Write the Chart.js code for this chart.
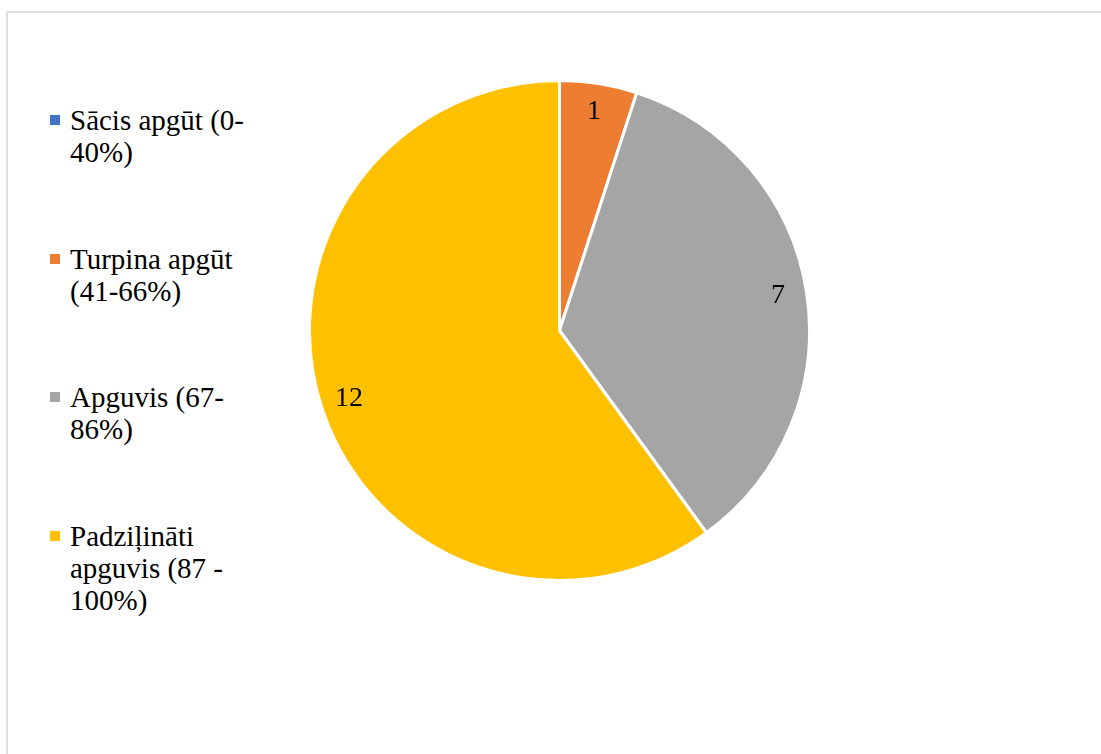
<!DOCTYPE html>
<html>
<head>
<meta charset="utf-8">
<title>Apguves līmeņi</title>
<script src="https://cdn.jsdelivr.net/npm/chart.js@4.4.1/dist/chart.umd.min.js"></script>
<style>
  html, body { margin: 0; padding: 0; background: #fff; overflow: hidden; }
  body { width: 1101px; height: 754px; position: relative;
         font-family: "Liberation Serif", "Times New Roman", serif; color: #000; }
  .frame { position: absolute; left: 6px; top: 11px; width: 1200px; height: 900px;
           border-top: 2px solid #dedede; border-left: 2px solid #dedede; }
  .pie-box { position: absolute; left: 308px; top: 79px; width: 503px; height: 503px; }
  .legend { position: absolute; left: 50px; top: 0; }
  .legend-item { position: absolute; left: 0; width: 220px; font-size: 29px; line-height: 32px; }
  .legend-item .swatch { position: absolute; left: 0; top: 11px; width: 10px; height: 10px; }
  .legend-item .text { position: absolute; left: 20px; white-space: nowrap; }
</style>
</head>
<body>
<div class="frame"></div>
<div class="legend" id="legend"></div>
<div class="pie-box"><canvas id="pieChart" width="503" height="503"></canvas></div>
<script>
"use strict";

// Achievement levels, each label split into the lines it is shown on
const categories = [
    ["Sācis apgūt (0-", "40%)"],
    ["Turpina apgūt", "(41-66%)"],
    ["Apguvis (67-", "86%)"],
    ["Padziļināti", "apguvis (87 -", "100%)"]
];
const counts = [0, 1, 7, 12];
const colors = ["#4472C4", "#ED7D31", "#A5A5A5", "#FFC000"];

const labelFont = '28px "Liberation Serif", "Times New Roman", serif';

// Writes each slice's count inside the slice, near the rim
const sliceValues = {
    id: "sliceValues",
    afterDatasetsDraw(chart) {
        const c = chart.ctx;
        const meta = chart.getDatasetMeta(0);
        c.save();
        c.font = labelFont;
        c.fillStyle = "#000";
        c.textAlign = "center";
        c.textBaseline = "middle";
        meta.data.forEach((arc, i) => {
            const value = chart.data.datasets[0].data[i];
            if (!value) return;
            const p = arc.getProps(["x", "y", "startAngle", "endAngle", "outerRadius"], true);
            const mid = (p.startAngle + p.endAngle) / 2;
            const r = p.outerRadius * 0.885;
            c.fillText(String(value), p.x + Math.cos(mid) * r, p.y + Math.sin(mid) * r);
        });
        c.restore();
    }
};

const ctx = document.getElementById("pieChart").getContext("2d");
const pieChart = new Chart(ctx, {
    type: "pie",
    data: {
        labels: categories,
        datasets: [{
            data: counts,
            backgroundColor: colors,
            borderColor: "#ffffff",
            borderWidth: 3
        }]
    },
    options: {
        responsive: false,
        animation: false,
        layout: { padding: 0 },
        plugins: {
            legend: { display: false },
            tooltip: { enabled: false }
        }
    },
    plugins: [sliceValues]
});

// HTML legend on the left, one slot per category
const legendEl = document.getElementById("legend");
const firstTop = 104;
const slotStep = 138.5;
categories.forEach((lines, i) => {
    const item = document.createElement("div");
    item.className = "legend-item";
    item.style.top = (firstTop + i * slotStep) + "px";

    const swatch = document.createElement("span");
    swatch.className = "swatch";
    swatch.style.background = colors[i];
    item.appendChild(swatch);

    const text = document.createElement("div");
    text.className = "text";
    lines.forEach((line, j) => {
        if (j) text.appendChild(document.createElement("br"));
        text.appendChild(document.createTextNode(line));
    });
    item.appendChild(text);
    legendEl.appendChild(item);
});
</script>
</body>
</html>
